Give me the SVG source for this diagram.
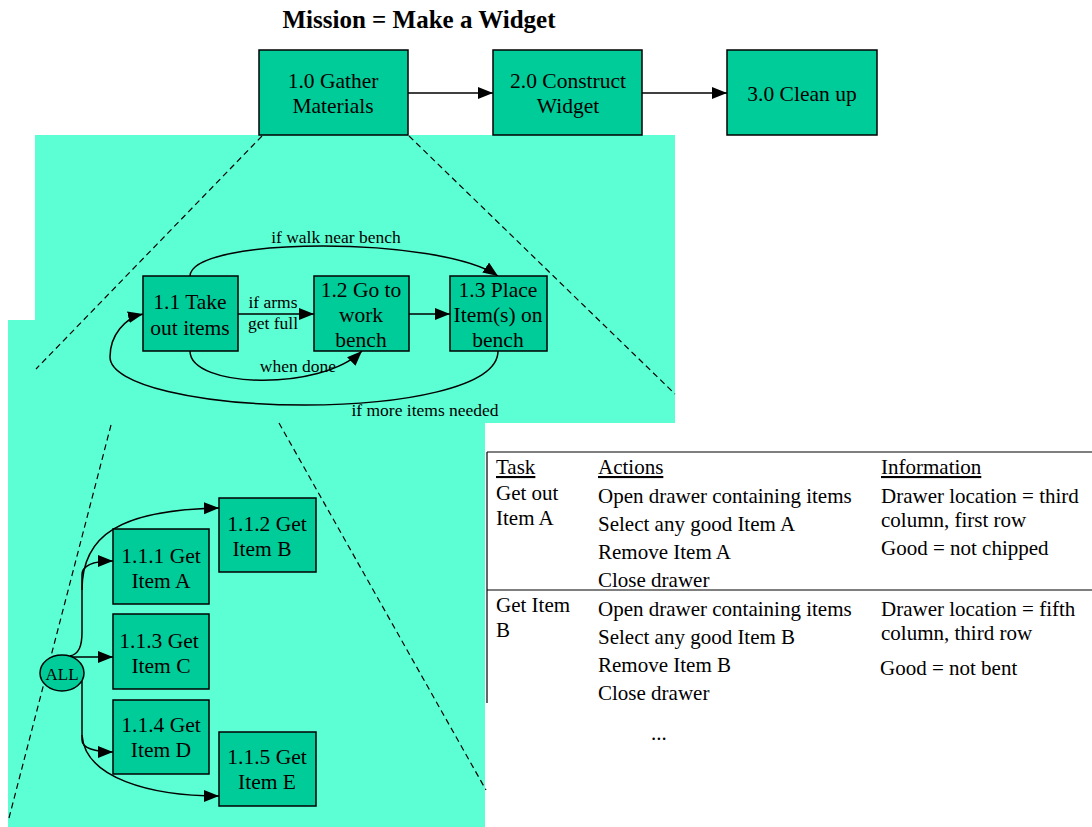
<svg xmlns="http://www.w3.org/2000/svg" width="1092" height="827" viewBox="0 0 1092 827">
<style>
.node{fill:#00CC99;stroke:#000;stroke-width:1.5}
.t{font-family:"Liberation Serif",serif;font-size:21.5px;fill:#000;text-anchor:middle}
.s{font-family:"Liberation Serif",serif;font-size:17.5px;fill:#000;text-anchor:middle}
.tb{font-family:"Liberation Serif",serif;font-size:21px;fill:#000}
.e{fill:none;stroke:#000;stroke-width:1.5}
.d{fill:none;stroke:#000;stroke-width:1.2;stroke-dasharray:6,4}
</style>
<defs>
<marker id="ah" markerUnits="userSpaceOnUse" markerWidth="16" markerHeight="14" refX="15" refY="6" orient="auto">
<path d="M0,0 L15,6 L0,12 Z" fill="#000"/>
</marker>
</defs>
<rect width="1092" height="827" fill="#fff"/>
<g id="panels">
<rect x="35" y="135" width="640" height="288" fill="#5CFFD4"/>
<rect x="8" y="320" width="477" height="507" fill="#5CFFD4"/>
</g>
<text x="419" y="28" style="font-family:'Liberation Serif',serif;font-size:25px;font-weight:bold;text-anchor:middle">Mission = Make a Widget</text>
<g id="zoomlines">
<path class="d" d="M262,136 L36,369"/>
<path class="d" d="M409,136 L675,394"/>
<path class="d" d="M111,425 L9,818"/>
<path class="d" d="M279,423 L486,790"/>
</g>
<g id="connectors">
<path class="e" d="M408,93 L493,93" marker-end="url(#ah)"/>
<path class="e" d="M642,93 L727,93" marker-end="url(#ah)"/>
<path class="e" d="M238,314 L314,314" marker-end="url(#ah)"/>
<path class="e" d="M409,314 L450,314" marker-end="url(#ah)"/>
<path class="e" d="M190,276 C192,236 440,236 498,276" marker-end="url(#ah)"/>
<path class="e" d="M190,351 C190,388 320,392 362,351" marker-end="url(#ah)"/>
<path class="e" d="M498,351 C498,388 400,405 305,405 C200,405 110,385 110,357 C110,335 125,318 143,314" marker-end="url(#ah)"/>
<path class="e" d="M70,657 L113,657" marker-end="url(#ah)"/>
<path class="e" d="M70,656 C79,654 82,646 82,632 L82,575 C82,566 92,561 113,561" marker-end="url(#ah)"/>
<path class="e" d="M82,590 C82,535 120,510 219,508" marker-end="url(#ah)"/>
<path class="e" d="M82,676 L82,740 C82,748 95,752 113,752" marker-end="url(#ah)"/>
<path class="e" d="M82,735 C85,778 150,796 219,796" marker-end="url(#ah)"/>
<text class="s" x="336" y="243">if walk near bench</text>
<text class="s" x="273" y="308">if arms</text>
<text class="s" x="273" y="329">get full</text>
<text class="s" x="298" y="372">when done</text>
<text class="s" x="425" y="416">if more items needed</text>
</g>
<g id="n1-0"><rect class="node" x="259" y="50" width="149" height="85"/><text class="t" x="333" y="88">1.0 Gather</text><text class="t" x="333" y="113">Materials</text></g>
<g id="n2-0"><rect class="node" x="493" y="50" width="149" height="85"/><text class="t" x="568" y="88">2.0 Construct</text><text class="t" x="568" y="113">Widget</text></g>
<g id="n3-0"><rect class="node" x="727" y="50" width="150" height="85"/><text class="t" x="802" y="101">3.0 Clean up</text></g>
<g id="n1-1"><rect class="node" x="143" y="276" width="95" height="75"/><text class="t" x="190" y="309">1.1 Take</text><text class="t" x="190" y="335">out items</text></g>
<g id="n1-2"><rect class="node" x="314" y="276" width="95" height="75"/><text class="t" x="361" y="297">1.2 Go to</text><text class="t" x="361" y="322">work</text><text class="t" x="361" y="347">bench</text></g>
<g id="n1-3"><rect class="node" x="450" y="276" width="97" height="75"/><text class="t" x="498" y="297">1.3 Place</text><text class="t" x="498" y="322">Item(s) on</text><text class="t" x="498" y="347">bench</text></g>
<g id="nall"><ellipse class="node" cx="62" cy="673" rx="22" ry="18"/><text x="62" y="680" style="font-family:'Liberation Serif',serif;font-size:17px;text-anchor:middle">ALL</text></g>
<g id="n1-1-1"><rect class="node" x="113" y="529" width="96" height="75"/><text class="t" x="161" y="563">1.1.1 Get</text><text class="t" x="161" y="588">Item A</text></g>
<g id="n1-1-2"><rect class="node" x="219" y="498" width="97" height="74"/><text class="t" x="267" y="531">1.1.2 Get</text><text class="t" x="262" y="556">Item B</text></g>
<g id="n1-1-3"><rect class="node" x="113" y="614" width="96" height="75"/><text class="t" x="159" y="648">1.1.3 Get</text><text class="t" x="161" y="673">Item C</text></g>
<g id="n1-1-4"><rect class="node" x="113" y="700" width="96" height="74"/><text class="t" x="161" y="732">1.1.4 Get</text><text class="t" x="161" y="757">Item D</text></g>
<g id="n1-1-5"><rect class="node" x="219" y="732" width="97" height="74"/><text class="t" x="267" y="764">1.1.5 Get</text><text class="t" x="267" y="789">Item E</text></g>
<g id="table">
<path d="M487,452 L1092,452 M487,452 L487,703 M487,590 L1092,590" stroke="#000" stroke-width="1.2" fill="none"/>
<text class="tb" x="496" y="474" text-decoration="underline">Task</text>
<text class="tb" x="598" y="474" text-decoration="underline">Actions</text>
<text class="tb" x="881" y="474" text-decoration="underline">Information</text>
<text class="tb" x="496" y="500">Get out</text>
<text class="tb" x="496" y="525">Item A</text>
<text class="tb" x="598" y="503">Open drawer containing items</text>
<text class="tb" x="598" y="531">Select any good Item A</text>
<text class="tb" x="598" y="559">Remove Item A</text>
<text class="tb" x="598" y="587">Close drawer</text>
<text class="tb" x="881" y="503">Drawer location = third</text>
<text class="tb" x="881" y="527">column, first row</text>
<text class="tb" x="881" y="555">Good = not chipped</text>
<text class="tb" x="496" y="612">Get Item</text>
<text class="tb" x="496" y="637">B</text>
<text class="tb" x="598" y="616">Open drawer containing items</text>
<text class="tb" x="598" y="644">Select any good Item B</text>
<text class="tb" x="598" y="672">Remove Item B</text>
<text class="tb" x="598" y="700">Close drawer</text>
<text class="tb" x="881" y="616">Drawer location = fifth</text>
<text class="tb" x="881" y="640">column, third row</text>
<text class="tb" x="880" y="675">Good = not bent</text>
<text class="tb" x="651" y="740">...</text>
</g>
</svg>
